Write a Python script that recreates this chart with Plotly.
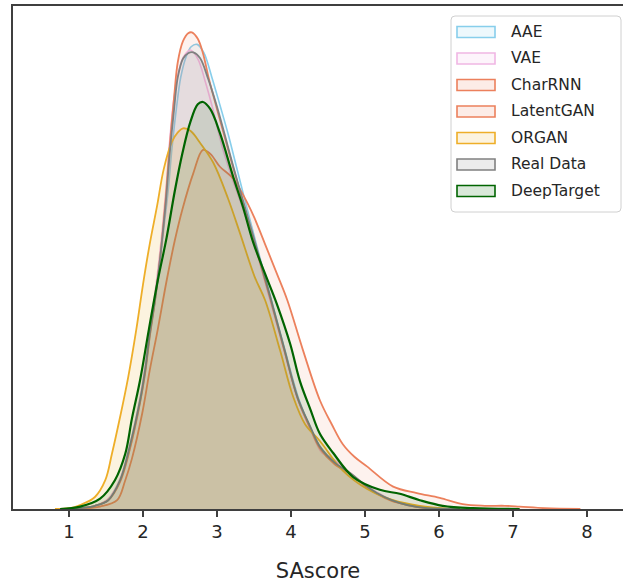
import plotly.graph_objects as go

# ---------------- data (SAscore, density) ----------------
aae_x = [0.88, 1.15, 1.35, 1.53, 1.69, 1.82, 1.96, 2.03, 2.09, 2.16, 2.23, 2.28, 2.34, 2.39, 2.45, 2.51, 2.58, 2.65, 2.73, 2.82, 2.93, 3.04, 3.15, 3.26, 3.38, 3.54, 3.73, 3.92, 4.11, 4.27, 4.41, 4.61, 4.81, 5.01, 5.18, 5.38, 5.58, 5.85, 6.28]
aae_y = [0.000, 0.001, 0.004, 0.011, 0.035, 0.075, 0.133, 0.171, 0.215, 0.258, 0.308, 0.350, 0.398, 0.450, 0.500, 0.540, 0.565, 0.578, 0.581, 0.571, 0.540, 0.505, 0.469, 0.429, 0.385, 0.328, 0.263, 0.198, 0.136, 0.100, 0.076, 0.056, 0.043, 0.029, 0.019, 0.010, 0.005, 0.001, 0.000]

vae_x = [0.88, 1.15, 1.35, 1.53, 1.69, 1.82, 1.96, 2.03, 2.09, 2.16, 2.23, 2.27, 2.31, 2.36, 2.42, 2.49, 2.55, 2.64, 2.74, 2.84, 2.95, 3.07, 3.20, 3.35, 3.53, 3.72, 3.91, 4.09, 4.26, 4.42, 4.53, 4.66, 4.82, 5.00, 5.18, 5.36, 5.57, 5.84, 6.28]
vae_y = [0.000, 0.001, 0.004, 0.013, 0.038, 0.080, 0.140, 0.181, 0.225, 0.269, 0.323, 0.360, 0.400, 0.460, 0.515, 0.550, 0.566, 0.574, 0.563, 0.535, 0.498, 0.453, 0.415, 0.375, 0.323, 0.260, 0.198, 0.138, 0.100, 0.070, 0.065, 0.056, 0.043, 0.030, 0.020, 0.011, 0.005, 0.001, 0.000]

charrnn_x = [0.88, 1.15, 1.35, 1.53, 1.69, 1.82, 1.96, 2.03, 2.09, 2.16, 2.23, 2.27, 2.31, 2.36, 2.42, 2.47, 2.54, 2.61, 2.66, 2.74, 2.81, 2.89, 3.00, 3.11, 3.23, 3.35, 3.53, 3.72, 3.91, 4.09, 4.26, 4.39, 4.59, 4.80, 5.00, 5.16, 5.36, 5.57, 5.84, 6.28]
charrnn_y = [0.000, 0.001, 0.004, 0.011, 0.034, 0.074, 0.133, 0.171, 0.215, 0.259, 0.313, 0.350, 0.391, 0.453, 0.515, 0.559, 0.585, 0.595, 0.596, 0.588, 0.570, 0.538, 0.500, 0.463, 0.423, 0.384, 0.325, 0.263, 0.198, 0.138, 0.101, 0.076, 0.056, 0.044, 0.029, 0.019, 0.010, 0.005, 0.001, 0.000]

latentgan_x = [1.08, 1.42, 1.65, 1.76, 1.85, 1.99, 2.09, 2.20, 2.32, 2.43, 2.53, 2.68, 2.81, 2.91, 3.04, 3.22, 3.42, 3.51, 3.65, 3.81, 3.95, 4.16, 4.39, 4.55, 4.70, 4.86, 5.03, 5.38, 5.70, 6.01, 6.32, 6.62, 6.89, 7.09, 7.43, 7.91]
latentgan_y = [0.000, 0.003, 0.011, 0.036, 0.063, 0.120, 0.173, 0.225, 0.286, 0.336, 0.374, 0.420, 0.449, 0.444, 0.428, 0.413, 0.381, 0.363, 0.331, 0.294, 0.261, 0.199, 0.136, 0.106, 0.081, 0.065, 0.053, 0.028, 0.020, 0.014, 0.006, 0.004, 0.004, 0.003, 0.001, 0.000]

organ_x = [0.81, 1.01, 1.15, 1.35, 1.49, 1.58, 1.69, 1.80, 1.91, 2.00, 2.09, 2.19, 2.28, 2.39, 2.47, 2.54, 2.64, 2.77, 2.95, 3.15, 3.31, 3.51, 3.65, 3.85, 4.03, 4.19, 4.39, 4.70, 5.03, 5.38, 5.74, 6.15]
organ_y = [0.000, 0.001, 0.005, 0.015, 0.036, 0.069, 0.115, 0.165, 0.225, 0.281, 0.331, 0.379, 0.425, 0.459, 0.471, 0.476, 0.473, 0.458, 0.433, 0.388, 0.345, 0.290, 0.261, 0.199, 0.140, 0.106, 0.085, 0.048, 0.025, 0.011, 0.004, 0.000]

real_x = [0.88, 1.15, 1.35, 1.53, 1.69, 1.82, 1.96, 2.03, 2.09, 2.16, 2.23, 2.27, 2.31, 2.36, 2.42, 2.47, 2.54, 2.61, 2.68, 2.77, 2.88, 3.00, 3.11, 3.23, 3.35, 3.53, 3.72, 3.91, 4.09, 4.26, 4.39, 4.59, 4.80, 5.00, 5.16, 5.36, 5.57, 5.84, 6.28]
real_y = [0.000, 0.001, 0.004, 0.011, 0.036, 0.078, 0.136, 0.175, 0.219, 0.261, 0.313, 0.348, 0.386, 0.444, 0.500, 0.540, 0.563, 0.570, 0.571, 0.564, 0.538, 0.503, 0.466, 0.425, 0.386, 0.328, 0.265, 0.200, 0.139, 0.103, 0.078, 0.058, 0.045, 0.030, 0.020, 0.011, 0.005, 0.001, 0.000]

deeptarget_x = [0.88, 1.15, 1.42, 1.62, 1.76, 1.85, 1.96, 2.08, 2.20, 2.32, 2.43, 2.53, 2.64, 2.74, 2.81, 2.91, 3.04, 3.22, 3.35, 3.49, 3.65, 3.81, 3.99, 4.12, 4.26, 4.39, 4.57, 4.84, 5.20, 5.47, 5.74, 6.05, 6.46, 7.09]
deeptarget_y = [0.000, 0.003, 0.013, 0.036, 0.069, 0.113, 0.161, 0.225, 0.286, 0.340, 0.398, 0.444, 0.484, 0.506, 0.509, 0.500, 0.470, 0.415, 0.378, 0.333, 0.294, 0.256, 0.206, 0.160, 0.125, 0.094, 0.070, 0.040, 0.024, 0.019, 0.011, 0.004, 0.001, 0.000]

series_names = ["AAE", "VAE", "CharRNN", "LatentGAN", "ORGAN", "Real Data", "DeepTarget"]
tick_values = [1, 2, 3, 4, 5, 6, 7, 8]
x_label = "SAscore"

# ---------------- styles ----------------
line_colors = ["rgb(135,206,235)", "rgb(240,182,228)", "rgb(236,128,92)", "rgb(236,128,92)",
               "rgb(238,174,40)", "rgb(128,128,128)", "rgb(0,100,0)"]
line_widths = [1.6, 1.6, 1.8, 1.8, 1.8, 1.8, 2.2]
fill_alphas = [0.10, 0.10, 0.10, 0.10, 0.15, 0.10, 0.10]

def rgba(c, a):
    r, g, b = c[4:-1].split(",")
    return f"rgba({r},{g},{b},{a})"

xs = [aae_x, vae_x, charrnn_x, latentgan_x, organ_x, real_x, deeptarget_x]
ys = [aae_y, vae_y, charrnn_y, latentgan_y, organ_y, real_y, deeptarget_y]

fig = go.Figure()
for name, x, y, c, w, a in zip(series_names, xs, ys, line_colors, line_widths, fill_alphas):
    fig.add_trace(go.Scatter(
        x=x, y=y, name=name, mode="lines", fill="tozeroy",
        fillcolor=rgba(c, a),
        line=dict(color=c, width=w, shape="spline", smoothing=1.0),
        showlegend=False, hoverinfo="skip"))

# ---------------- layout ----------------
W, H = 623, 585
ML, MR, MT, MB = 13, 0, 6, 76
PW, PH = W - ML - MR, H - MT - MB

axis_col = "#3f3f3f"
font_fam = "DejaVu Sans"

fig.update_layout(
    width=W, height=H,
    margin=dict(l=ML, r=MR, t=MT, b=MB, autoexpand=False),
    plot_bgcolor="white", paper_bgcolor="white",
    showlegend=False,
    font=dict(family=font_fam, color="#262626"),
    xaxis=dict(range=[0.243, 8.486], tickvals=tick_values, ticktext=[str(t) for t in tick_values],
               ticks="outside", ticklen=6, tickwidth=1.6, tickcolor=axis_col,
               showline=True, linecolor=axis_col, linewidth=1.6, mirror=True,
               showgrid=False, zeroline=False,
               tickfont=dict(size=18, family=font_fam, color="#262626"),
               title=dict(text=x_label, font=dict(size=21, family=font_fam, color="#262626"), standoff=22)),
    yaxis=dict(range=[0, 0.629], showticklabels=False, ticks="",
               showline=True, linecolor=axis_col, linewidth=1.6,
               showgrid=False, zeroline=False),
)

# ---------------- manual legend (matplotlib-style patches) ----------------
def px(xp):
    return (xp - ML) / PW

def py(yp):
    return (H - MB - yp) / PH

shapes = []
x0, x1, y0, y1, r = 451, 621, 16, 212, 4
path = (f"M {px(x0 + r)},{py(y0)} L {px(x1 - r)},{py(y0)} Q {px(x1)},{py(y0)} {px(x1)},{py(y0 + r)} "
        f"L {px(x1)},{py(y1 - r)} Q {px(x1)},{py(y1)} {px(x1 - r)},{py(y1)} "
        f"L {px(x0 + r)},{py(y1)} Q {px(x0)},{py(y1)} {px(x0)},{py(y1 - r)} "
        f"L {px(x0)},{py(y0 + r)} Q {px(x0)},{py(y0)} {px(x0 + r)},{py(y0)} Z")
shapes.append(dict(type="path", xref="paper", yref="paper", path=path,
                   fillcolor="rgba(255,255,255,0.85)", line=dict(color="#d0d0d0", width=1)))
annotations = []
for i, (name, c) in enumerate(zip(series_names, line_colors)):
    yc = 32 + 26.5 * i
    shapes.append(dict(type="rect", xref="paper", yref="paper",
                       x0=px(457), x1=px(495), y0=py(yc + 5.5), y1=py(yc - 5.5),
                       fillcolor=rgba(c, 0.15), line=dict(color=c, width=1.6)))
    annotations.append(dict(xref="paper", yref="paper", x=px(509), y=py(yc),
                            xanchor="left", yanchor="middle", showarrow=False,
                            text=name, font=dict(size=15.5, family=font_fam, color="#262626")))
fig.update_layout(shapes=shapes, annotations=annotations)

fig.write_html("out.html")
